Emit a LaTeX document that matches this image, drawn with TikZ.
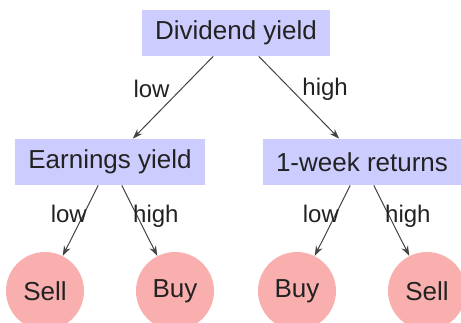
\documentclass[tikz,border=0pt]{standalone}
\usepackage{fontspec}
\setmainfont{Liberation Sans}
\usepackage{tikz}
\usetikzlibrary{positioning,arrows.meta}
\definecolor{m_lilac}{RGB}{204,204,255}
\definecolor{m_pink}{RGB}{250,175,175}
\definecolor{m_ink}{RGB}{34,34,34}

\begin{document}
\begin{tikzpicture}[
    font=\fontsize{13pt}{15pt}\selectfont,
    text=m_ink,
    split/.style={fill=m_lilac,inner xsep=6.5pt,minimum height=23pt},
    leaf/.style={circle,fill=m_pink,minimum size=39pt,inner sep=0pt},
    choice/.style={font=\fontsize{12pt}{14pt}\selectfont,inner sep=1pt},
    every edge/.style={draw=m_ink!85,line width=0.5pt,-{Stealth[length=5pt,width=3.5pt]}},
    level distance=64.5pt,
    level 1/.style={sibling distance=126pt},
    level 2/.style={sibling distance=65pt},
    edge from parent/.style={draw=none}]
    \clip (0,0) rectangle (230.5pt,-161pt);

    \node[split] (dividend) at (118pt,-16.5pt) {Dividend yield}
    child {node[split] (earnings) {Earnings yield}
        child {node[leaf] (sell1) {Sell}}
        child {node[leaf] (buy1) {Buy}}}
    child {node[split] (returns) {1-week returns}
        child {node[leaf] (buy2) {Buy}}
        child {node[leaf] (sell2) {Sell}}};

    \path (dividend) edge node[choice,left=4.5pt,pos=0.4] {low} (earnings)
                     edge node[choice,right=4.5pt,pos=0.4] {high} (returns);
    \path (earnings) edge node[choice,anchor=north east,pos=0.25] {low} (sell1)
                     edge node[choice,anchor=north west,pos=0.25] {high} (buy1);
    \path (returns) edge node[choice,anchor=north east,pos=0.25] {low} (buy2)
                    edge node[choice,anchor=north west,pos=0.25] {high} (sell2);
\end{tikzpicture}
\end{document}
